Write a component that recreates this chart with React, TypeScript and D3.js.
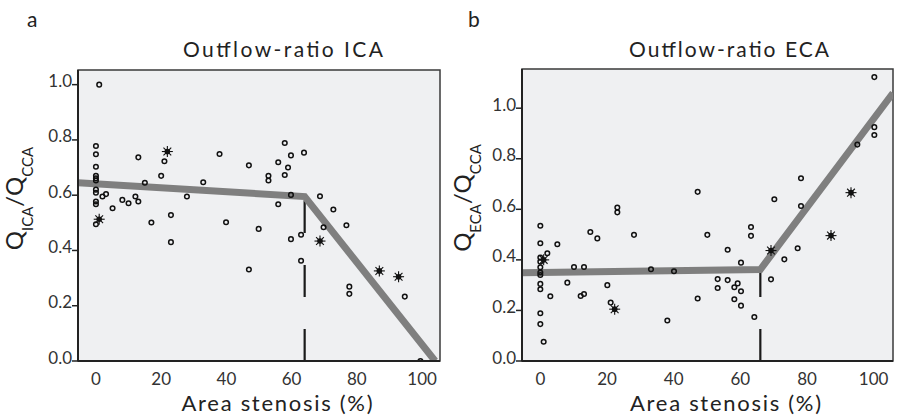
import React from "react";
import * as d3 from "d3";

const Y_TICKS = [0, 0.2, 0.4, 0.6, 0.8, 1.0];
const X_TICKS = [0, 20, 40, 60, 80, 100];

const ICA_X = [1, 0, 0, 0, 0, 0, 0, 0, 0, 0, 0, 0, 2, 3.1, 5.1, 8.1, 10, 12.1, 13, 13, 15, 20, 21, 17, 23, 23, 27.9, 32.9, 37.9, 39.9, 46.9, 46.9, 49.9, 52.9, 52.9, 55.9, 55.9, 57.9, 57.9, 58.9, 59.8, 59.8, 59.8, 62.9, 62.9, 63.8, 68.7, 72.8, 69.8, 76.8, 77.7, 77.7, 94.7, 99.5];
const ICA_Y = [1.0, 0.778, 0.748, 0.703, 0.67, 0.661, 0.653, 0.62, 0.609, 0.577, 0.567, 0.495, 0.595, 0.604, 0.553, 0.583, 0.571, 0.595, 0.577, 0.737, 0.645, 0.67, 0.723, 0.501, 0.528, 0.43, 0.595, 0.647, 0.749, 0.502, 0.708, 0.331, 0.478, 0.67, 0.653, 0.567, 0.719, 0.789, 0.673, 0.7, 0.744, 0.601, 0.441, 0.457, 0.363, 0.754, 0.596, 0.548, 0.484, 0.491, 0.269, 0.243, 0.233, 0.0];
const ICA_STAR_X = [1, 21.9, 68.7, 86.9, 92.8];
const ICA_STAR_Y = [0.513, 0.758, 0.434, 0.326, 0.305];
const ICA_FIT_X = [-5.5, 64, 104];
const ICA_FIT_Y = [0.645, 0.595, 0];
const ICA_BREAK = 64;

const ECA_X = [0, 0, 0, 0, 0, 0, 0, 0, 0, 0, 0, 1, 2.1, 3, 5.1, 8.1, 10.1, 12.1, 13.1, 13.1, 15, 17.1, 20.1, 21.1, 23.1, 23.1, 28.1, 33.2, 38.1, 40.1, 47.2, 47.2, 50.1, 53.2, 53.2, 56.2, 56.2, 58.2, 58.2, 59.2, 60.2, 60.2, 60.2, 63.2, 63.2, 64.2, 69.2, 70.2, 73.2, 77.2, 78.2, 78.2, 95.1, 100.2, 100.2, 100.2];
const ECA_Y = [0.535, 0.466, 0.409, 0.393, 0.371, 0.35, 0.34, 0.305, 0.284, 0.189, 0.146, 0.076, 0.426, 0.256, 0.462, 0.31, 0.372, 0.257, 0.265, 0.372, 0.51, 0.485, 0.3, 0.231, 0.607, 0.588, 0.499, 0.363, 0.16, 0.355, 0.669, 0.247, 0.499, 0.324, 0.289, 0.44, 0.32, 0.292, 0.244, 0.307, 0.389, 0.276, 0.219, 0.53, 0.495, 0.174, 0.323, 0.64, 0.402, 0.446, 0.723, 0.613, 0.856, 1.123, 0.925, 0.894];
const ECA_STAR_X = [1, 22.3, 69.2, 87.2, 93.2];
const ECA_STAR_Y = [0.4, 0.205, 0.437, 0.496, 0.666];
const ECA_FIT_X = [-5.5, 66, 105.8];
const ECA_FIT_Y = [0.349, 0.362, 1.06];
const ECA_BREAK = 66;

const FONT = "Lato, 'Open Sans', sans-serif";

type PanelProps = {
  letter: string;
  letterX: number;
  title: string;
  titleX: number;
  sub: string;
  x0: number;
  x1: number;
  y0: number;
  y1: number;
  xDomain: [number, number];
  yMax: number;
  xs: number[];
  ys: number[];
  sx: number[];
  sy: number[];
  fx: number[];
  fy: number[];
  brk: number;
  yTitleX: number;
};

function Star({ cx, cy }: { cx: number; cy: number }) {
  const spokes = d3.range(8).map((i) => {
    const a = (i * Math.PI) / 4;
    return (
      <line
        key={i}
        x1={cx}
        y1={cy}
        x2={cx + 5.5 * Math.cos(a)}
        y2={cy + 5.5 * Math.sin(a)}
        stroke="#111"
        strokeWidth={1.1}
      />
    );
  });
  return (
    <g>
      {spokes}
      <circle cx={cx} cy={cy} r={2.8} fill="#111" />
    </g>
  );
}

function Panel(p: PanelProps) {
  const x = d3.scaleLinear().domain(p.xDomain).range([p.x0, p.x1]);
  const y = d3.scaleLinear().domain([0, p.yMax]).range([p.y1, p.y0]);
  const line = d3
    .line<number>()
    .x((_, i) => x(p.fx[i]))
    .y((d) => y(d));
  const breakY = p.fy[1];
  const clipId = "clip-" + p.letter;
  return (
    <g>
      <text x={p.letterX} y={27} fontSize={21} fontFamily={FONT} fill="#222">
        {p.letter}
      </text>
      <text
        x={p.titleX}
        y={57}
        fontSize={21}
        fontFamily={FONT}
        textAnchor="middle"
        fill="#222"
        textLength={200}
        lengthAdjust="spacing"
      >
        {p.title}
      </text>
      <defs>
        <clipPath id={clipId}>
          <rect x={p.x0} y={p.y0} width={p.x1 - p.x0} height={p.y1 - p.y0} />
        </clipPath>
      </defs>
      <rect
        x={p.x0}
        y={p.y0}
        width={p.x1 - p.x0}
        height={p.y1 - p.y0}
        fill="#eff0f2"
        stroke="#3a3a3a"
        strokeWidth={1.5}
      />
      <g clipPath={`url(#${clipId})`}>
        <line
          x1={x(p.brk)}
          x2={x(p.brk)}
          y1={y(0)}
          y2={y(breakY)}
          stroke="#1a1a1a"
          strokeWidth={2.2}
          strokeDasharray="32 32"
        />
        <path
          d={line(p.fy) || ""}
          fill="none"
          stroke="#7f7f7f"
          strokeWidth={7}
          strokeLinejoin="miter"
        />
        {p.xs.map((v, i) => (
          <circle
            key={i}
            cx={x(v)}
            cy={y(p.ys[i])}
            r={2.3}
            fill="none"
            stroke="#111"
            strokeWidth={1.5}
          />
        ))}
        {p.sx.map((v, i) => (
          <Star key={i} cx={x(v)} cy={y(p.sy[i])} />
        ))}
      </g>
      <line x1={p.x0} x2={p.x0} y1={p.y0} y2={p.y1} stroke="#222" strokeWidth={2} />
      <line x1={p.x0} x2={p.x1} y1={p.y1} y2={p.y1} stroke="#222" strokeWidth={2} />
      {Y_TICKS.map((t) => (
        <g key={t}>
          <line x1={p.x0 - 6} x2={p.x0} y1={y(t)} y2={y(t)} stroke="#222" strokeWidth={1.5} />
          <text
            x={p.x0 - 6}
            y={y(t) + 2.5}
            fontSize={17}
            fontFamily={FONT}
            textAnchor="end"
            fill="#333"
          >
            {t.toFixed(1)}
          </text>
        </g>
      ))}
      {X_TICKS.map((t) => (
        <text
          key={t}
          x={x(t)}
          y={385}
          fontSize={17}
          fontFamily={FONT}
          textAnchor="middle"
          fill="#333"
        >
          {t}
        </text>
      ))}
      <text
        x={(p.x0 + p.x1) / 2 + 18}
        y={411}
        fontSize={22}
        fontFamily={FONT}
        textAnchor="middle"
        fill="#222"
        textLength={191}
        lengthAdjust="spacing"
      >
        Area stenosis (%)
      </text>
      <g transform={`translate(${p.yTitleX},${(p.y0 + p.y1) / 2 - 17}) rotate(-90)`}>
        <text fontFamily={FONT} fontSize={24} textAnchor="middle" fill="#222">
          <tspan>Q</tspan>
          <tspan fontSize={15} dy={10}>
            {p.sub}
          </tspan>
          <tspan dy={-10}>/Q</tspan>
          <tspan fontSize={15} dy={10}>
            CCA
          </tspan>
        </text>
      </g>
    </g>
  );
}

export default function App() {
  return (
    <svg
      width={900}
      height={415}
      style={{ position: "absolute", left: 0, top: 0, background: "#fff" }}
    >
      <Panel
        letter="a"
        letterX={27}
        title="Outflow-ratio ICA"
        titleX={283}
        sub="ICA"
        x0={78}
        x1={440}
        y0={70}
        y1={361}
        xDomain={[-5.5, 105.5]}
        yMax={1.053}
        xs={ICA_X}
        ys={ICA_Y}
        sx={ICA_STAR_X}
        sy={ICA_STAR_Y}
        fx={ICA_FIT_X}
        fy={ICA_FIT_Y}
        brk={ICA_BREAK}
        yTitleX={23}
      />
      <Panel
        letter="b"
        letterX={468}
        title="Outflow-ratio ECA"
        titleX={729}
        sub="ECA"
        x0={522}
        x1={893}
        y0={69}
        y1={361}
        xDomain={[-5.5, 105.8]}
        yMax={1.155}
        xs={ECA_X}
        ys={ECA_Y}
        sx={ECA_STAR_X}
        sy={ECA_STAR_Y}
        fx={ECA_FIT_X}
        fy={ECA_FIT_Y}
        brk={ECA_BREAK}
        yTitleX={471}
      />
    </svg>
  );
}
